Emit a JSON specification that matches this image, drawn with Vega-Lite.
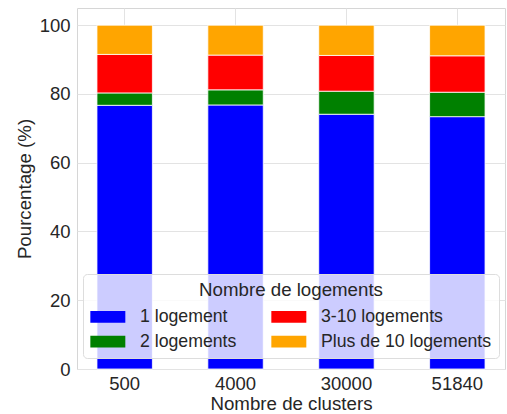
{
  "$schema": "https://vega.github.io/schema/vega-lite/v6.json",
  "width": 428,
  "height": 361,
  "autosize": {"type": "none"},
  "padding": {"left": 77, "top": 8, "right": 2, "bottom": 45},
  "background": "white",
  "config": {
    "font": "Liberation Sans",
    "view": {"stroke": "#d6d6d6", "strokeWidth": 1},
    "axis": {
      "labelFont": "Liberation Sans",
      "titleFont": "Liberation Sans",
      "labelColor": "#262626",
      "titleColor": "#262626",
      "titleFontWeight": "normal",
      "gridColor": "#e3e3e3",
      "gridWidth": 1,
      "ticks": false,
      "domain": false
    },
    "legend": {
      "labelFont": "Liberation Sans",
      "titleFont": "Liberation Sans"
    }
  },
  "data": {
    "values": [
      {"cluster": "500", "type": "1 logement", "ord": 1, "pct": 76.7},
      {"cluster": "500", "type": "2 logements", "ord": 2, "pct": 3.6},
      {"cluster": "500", "type": "3-10 logements", "ord": 3, "pct": 11.2},
      {"cluster": "500", "type": "Plus de 10 logements", "ord": 4, "pct": 8.5},
      {"cluster": "4000", "type": "1 logement", "ord": 1, "pct": 76.8},
      {"cluster": "4000", "type": "2 logements", "ord": 2, "pct": 4.4},
      {"cluster": "4000", "type": "3-10 logements", "ord": 3, "pct": 10.1},
      {"cluster": "4000", "type": "Plus de 10 logements", "ord": 4, "pct": 8.7},
      {"cluster": "30000", "type": "1 logement", "ord": 1, "pct": 74.1},
      {"cluster": "30000", "type": "2 logements", "ord": 2, "pct": 6.7},
      {"cluster": "30000", "type": "3-10 logements", "ord": 3, "pct": 10.4},
      {"cluster": "30000", "type": "Plus de 10 logements", "ord": 4, "pct": 8.8},
      {"cluster": "51840", "type": "1 logement", "ord": 1, "pct": 73.4},
      {"cluster": "51840", "type": "2 logements", "ord": 2, "pct": 7.1},
      {"cluster": "51840", "type": "3-10 logements", "ord": 3, "pct": 10.6},
      {"cluster": "51840", "type": "Plus de 10 logements", "ord": 4, "pct": 8.9}
    ]
  },
  "mark": {"type": "bar", "stroke": "white", "strokeWidth": 0.8},
  "encoding": {
    "x": {
      "field": "cluster",
      "type": "ordinal",
      "sort": ["500", "4000", "30000", "51840"],
      "scale": {"paddingInner": 0.5, "paddingOuter": 0.18},
      "axis": {
        "title": "Nombre de clusters",
        "labelAngle": 0,
        "labelFontSize": 18.5,
        "titleFontSize": 18.7,
        "labelPadding": 5,
        "titlePadding": 2,
        "grid": true
      }
    },
    "y": {
      "field": "pct",
      "type": "quantitative",
      "stack": "zero",
      "scale": {"domain": [0, 105], "nice": false},
      "axis": {
        "title": "Pourcentage (%)",
        "values": [0, 20, 40, 60, 80, 100],
        "labelFontSize": 18.5,
        "titleFontSize": 18.7,
        "labelPadding": 7,
        "titlePadding": 5,
        "grid": true
      }
    },
    "order": {"field": "ord", "type": "quantitative", "sort": "ascending"},
    "color": {
      "field": "type",
      "type": "nominal",
      "scale": {
        "domain": ["1 logement", "2 logements", "3-10 logements", "Plus de 10 logements"],
        "range": ["#0000ff", "#008000", "#ff0000", "#ffa500"]
      },
      "legend": {
        "title": "Nombre de logements",
        "orient": "none",
        "legendX": 6,
        "legendY": 266,
        "columns": 2,
        "columnPadding": 34,
        "rowPadding": 4,
        "padding": 7,
        "fillColor": "rgba(255,255,255,0.8)",
        "strokeColor": "#dddddd",
        "cornerRadius": 4,
        "titleAnchor": "middle",
        "titleFontSize": 18.7,
        "titleFontWeight": "normal",
        "titleColor": "#262626",
        "titlePadding": 5,
        "titleLimit": 400,
        "labelFontSize": 17.7,
        "labelColor": "#262626",
        "labelLimit": 300,
        "labelOffset": 26,
        "symbolType": "M-1,-0.5H2V0.5H-1Z",
        "symbolSize": 544,
        "symbolStrokeWidth": 0,
        "symbolOpacity": 1
      }
    }
  }
}
